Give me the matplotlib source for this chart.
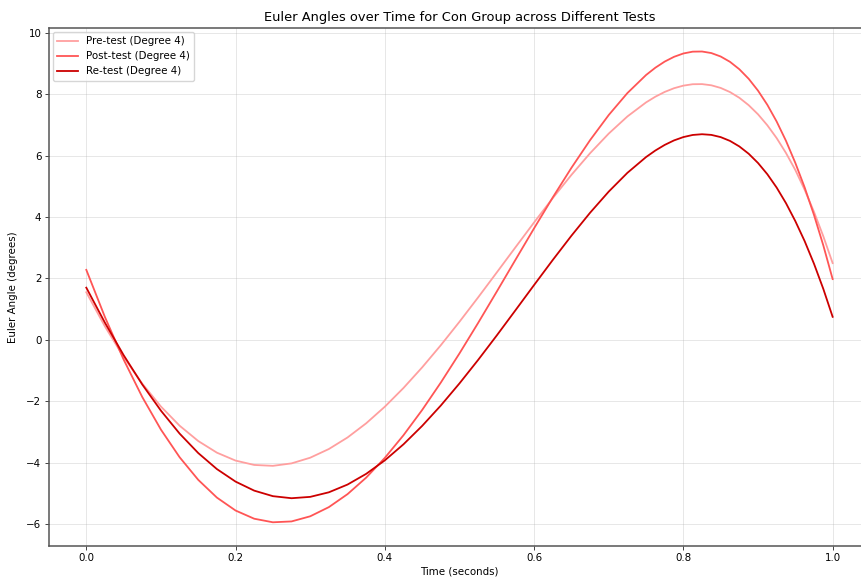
import numpy as np
import matplotlib
matplotlib.use("Agg")
import matplotlib.pyplot as plt

# time samples (seconds) and fitted Euler angles (degrees)
time_s = [0.0, 0.025, 0.05, 0.075, 0.1, 0.125, 0.15, 0.175, 0.2, 0.225,
          0.25, 0.275, 0.3, 0.325, 0.35, 0.375, 0.4, 0.425, 0.45, 0.475,
          0.5, 0.525, 0.55, 0.575, 0.6, 0.625, 0.65, 0.675, 0.7, 0.725,
          0.75, 0.7625, 0.775, 0.7875, 0.8, 0.8125, 0.825, 0.8375, 0.85, 0.8625,
          0.875, 0.8875, 0.9, 0.9125, 0.925, 0.9375, 0.95, 0.9625, 0.975, 0.9875, 1.0]

pre_test = [1.55, 0.435, -0.558, -1.428, -2.174, -2.797, -3.297, -3.676, -3.934, -4.076,
            -4.105, -4.025, -3.840, -3.557, -3.181, -2.719, -2.178, -1.568, -0.897, -0.175,
            0.589, 1.383, 2.196, 3.014, 3.826, 4.618, 5.374, 6.080, 6.720, 7.278,
            7.736, 7.922, 8.077, 8.198, 8.282, 8.328, 8.332, 8.293, 8.207, 8.072,
            7.886, 7.645, 7.348, 6.991, 6.572, 6.087, 5.534, 4.889, 4.170, 3.375, 2.50]

post_test = [2.28, 0.740, -0.642, -1.864, -2.925, -3.824, -4.562, -5.140, -5.561, -5.828,
             -5.944, -5.916, -5.749, -5.450, -5.027, -4.489, -3.845, -3.107, -2.285, -1.392,
             -0.442, 0.551, 1.573, 2.607, 3.635, 4.640, 5.604, 6.506, 7.325, 8.040,
             8.628, 8.867, 9.066, 9.221, 9.330, 9.389, 9.394, 9.343, 9.231, 9.057,
             8.816, 8.505, 8.119, 7.657, 7.112, 6.483, 5.765, 4.966, 4.070, 3.077, 1.98]

re_test = [1.70, 0.555, -0.499, -1.455, -2.308, -3.054, -3.689, -4.211, -4.619, -4.913,
           -5.093, -5.160, -5.116, -4.967, -4.715, -4.366, -3.926, -3.403, -2.804, -2.140,
           -1.419, -0.654, 0.144, 0.963, 1.787, 2.602, 3.392, 4.141, 4.830, 5.441,
           5.955, 6.169, 6.351, 6.498, 6.606, 6.675, 6.699, 6.677, 6.605, 6.481,
           6.301, 6.063, 5.762, 5.396, 4.960, 4.452, 3.868, 3.216, 2.480, 1.660, 0.75]

labels = ["Pre-test (Degree 4)", "Post-test (Degree 4)", "Re-test (Degree 4)"]
colors = ["#FF9F9F", "#FF5555", "#CC0000"]

fig = plt.figure(figsize=(8.61, 5.79), dpi=100)
ax = fig.add_axes([0.0569, 0.0573, 0.9535, 0.8944])

for series, label, color in zip([pre_test, post_test, re_test], labels, colors):
    ax.plot(time_s, series, color=color, linewidth=1.3, label=label)

ax.set_title("Euler Angles over Time for Con Group across Different Tests", fontsize=9.4, pad=5)
ax.set_xlabel("Time (seconds)", fontsize=7.4, labelpad=2)
ax.set_ylabel("Euler Angle (degrees)", fontsize=7.4, labelpad=6)
ax.tick_params(labelsize=7.4, color="#444444", length=3, width=0.7, pad=2.5)
ax.grid(True, alpha=0.3, linewidth=0.7)

for side in ["left", "bottom", "top"]:
    ax.spines[side].set_color("#555555")
    ax.spines[side].set_linewidth(1.1)

ax.legend(loc="upper left", fontsize=7.4, borderaxespad=0.4, handlelength=2.0)

fig.savefig("out.png", dpi=100)
